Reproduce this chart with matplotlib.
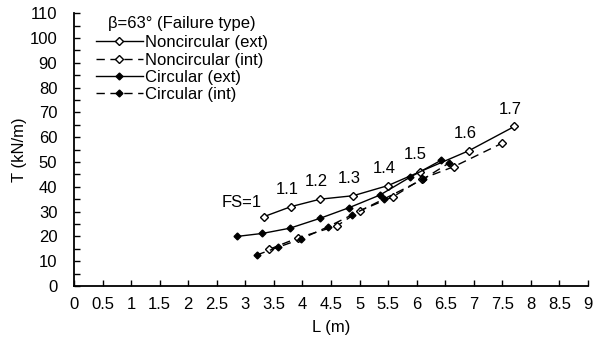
import matplotlib
matplotlib.use('Agg')
import matplotlib.pyplot as plt
from matplotlib.ticker import MultipleLocator

plt.rcParams['font.family'] = ['Liberation Sans', 'DejaVu Sans']
plt.rcParams['font.size'] = 12

# data
fs_labels = ['FS=1', '1.1', '1.2', '1.3', '1.4', '1.5', '1.6', '1.7']

L_nc_ext = [3.33, 3.80, 4.31, 4.89, 5.50, 6.05, 6.92, 7.71]
T_nc_ext = [28.0, 32.0, 35.0, 36.4, 40.5, 46.0, 54.6, 64.3]

L_nc_int = [3.42, 3.92, 4.60, 5.01, 5.59, 6.10, 6.65, 7.49]
T_nc_int = [14.8, 19.4, 24.2, 30.4, 36.0, 43.3, 48.1, 57.5]

L_c_ext = [2.86, 3.30, 3.78, 4.31, 4.82, 5.36, 5.88, 6.43]
T_c_ext = [20.0, 21.2, 23.3, 27.3, 31.6, 36.7, 43.8, 50.7]

L_c_int = [3.20, 3.57, 3.98, 4.45, 4.86, 5.42, 6.11, 6.56]
T_c_int = [12.5, 15.6, 19.0, 23.9, 28.6, 35.0, 43.0, 49.5]

fig = plt.figure(figsize=(5.94, 3.45), dpi=100)
ax = fig.add_axes([0.1246, 0.171, 0.8653, 0.791])

dash = (0, (6, 4))
ax.plot(L_nc_ext, T_nc_ext, color='black', lw=1, marker='D', ms=4.5,
        mfc='white', mec='black', mew=1, label='Noncircular (ext)')
ax.plot(L_nc_int, T_nc_int, color='black', lw=1, ls=dash, marker='D', ms=4.5,
        mfc='white', mec='black', mew=1, label='Noncircular (int)')
ax.plot(L_c_ext, T_c_ext, color='black', lw=1, marker='D', ms=3.5,
        mfc='black', mec='black', label='Circular (ext)')
ax.plot(L_c_int, T_c_int, color='black', lw=1, ls=dash, marker='D', ms=3.5,
        mfc='black', mec='black', label='Circular (int)')

for i, lab in enumerate(fs_labels):
    off = (-16, 10) if i == 0 else (-3, 12.5)
    ax.annotate(lab, (L_nc_ext[i], T_nc_ext[i]), xytext=off, textcoords='offset points',
                ha='center', va='center', fontsize=12)

ax.set_xlim(0, 9)
ax.set_ylim(0, 110)
ax.yaxis.set_major_locator(MultipleLocator(10))
ax.yaxis.set_minor_locator(MultipleLocator(5))
ax.set_xticks([i * 0.5 for i in range(19)])
ax.set_xticklabels([('%g' % (i * 0.5)) for i in range(19)])
ax.tick_params(direction='in', length=4, width=1, labelsize=12)
ax.tick_params(axis='x', pad=8)
ax.tick_params(axis='y', pad=12)
ax.tick_params(which='minor', direction='in', length=4, width=1)
for s in ['top', 'right']:
    ax.spines[s].set_visible(False)
for s in ['left', 'bottom']:
    ax.spines[s].set_linewidth(1.3)

ax.set_xlabel('L (m)', labelpad=6, fontsize=12)
ax.set_ylabel('T (kN/m)', labelpad=2, fontsize=12)

leg = ax.legend(title='β=63° (Failure type)', loc='upper left', frameon=False,
                bbox_to_anchor=(0.043, 0.989), handlelength=2.8, labelspacing=0.14,
                handletextpad=0.15, borderaxespad=0, borderpad=0,
                fontsize=12, title_fontsize=12)
# gap between the legend title and the entries
leg._legend_box.sep = 3

fig.savefig('out.png', dpi=100)
